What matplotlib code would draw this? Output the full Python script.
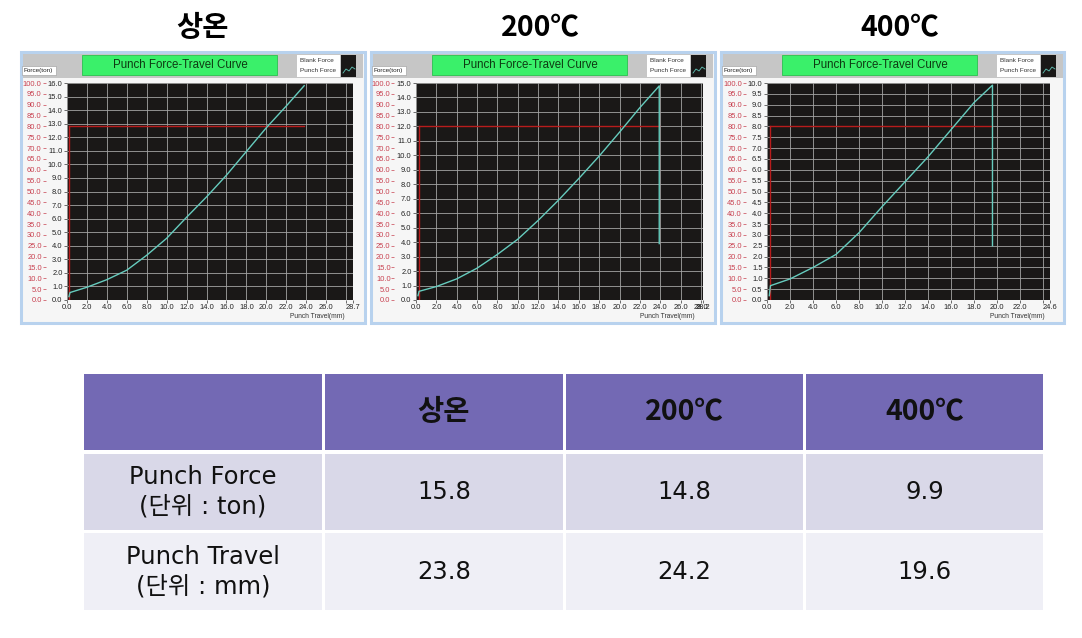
import numpy as np
import matplotlib.pyplot as plt
from matplotlib.patches import Rectangle

# 조건별 데이터
conditions = ['상온', '200℃', '400℃']

travel_rt = [0.2, 0.3, 2, 4, 6, 8, 10, 12, 14, 16, 18, 20, 22, 23.8]
force_rt = [0.25, 0.55, 0.94, 1.5, 2.2, 3.3, 4.55, 6.1, 7.6, 9.2, 10.95, 12.7, 14.3, 15.8]

travel_200 = [0.2, 0.3, 2, 4, 6, 8, 10, 12, 14, 16, 18, 20, 22, 23.9, 23.9]
force_200 = [0.3, 0.6, 0.93, 1.46, 2.2, 3.15, 4.2, 5.5, 6.9, 8.4, 9.95, 11.6, 13.3, 14.8, 3.9]

travel_400 = [0.2, 0.3, 2, 4, 6, 8, 10, 12, 14, 16, 18, 19.6, 19.6]
force_400 = [0.2, 0.66, 0.97, 1.5, 2.1, 3.1, 4.3, 5.45, 6.6, 7.85, 9.1, 9.9, 2.5]

x_max = [28.7, 28.2, 24.6]
x_hidden = [[28.0], [], [24.0]]
y_max = [16.0, 15.0, 10.0]
y_step = [1.0, 1.0, 0.5]

# 표 데이터
row_labels = ['Punch Force\n(단위 : ton)', 'Punch Travel\n(단위 : mm)']
punch_force = [15.8, 14.8, 9.9]
punch_travel = [23.8, 24.2, 19.6]

W, H = 1082, 638
fig = plt.figure(figsize=(W / 100, H / 100), dpi=100)
bg = fig.add_axes([0, 0, 1, 1])
bg.set_xlim(0, W)
bg.set_ylim(H, 0)
bg.axis('off')

kr = ['Noto Sans CJK KR', 'DejaVu Sans']
mix = ['DejaVu Sans', 'Noto Sans CJK KR']
small = 'Liberation Sans'


def fax(x0, y0, x1, y1):
    return fig.add_axes([x0 / W, 1 - y1 / H, (x1 - x0) / W, (y1 - y0) / H])


curves = [(travel_rt, force_rt), (travel_200, force_200), (travel_400, force_400)]
title_x = [203, 540, 900]
plot_boxes = [(67, 83, 353, 300), (416, 83, 703, 300), (767, 83, 1050, 300)]

for i in range(3):
    off = 350 * i
    # 제목
    bg.text(title_x[i], 28, conditions[i], ha='center', va='center', fontsize=20.5,
            fontweight='bold', family=kr)
    # 패널 틀
    bg.add_patch(Rectangle((21 + off, 52), 344 - (1 if i == 2 else 0), 271,
                           facecolor='#f6f6f6', edgecolor='#b8d2ee', lw=2.2))
    bg.add_patch(Rectangle((23 + off, 54), 340, 24, facecolor='#c6c6c6', edgecolor='none'))
    bg.add_patch(Rectangle((82 + off, 55), 195, 20, facecolor='#3af06a', edgecolor='#2cc050', lw=0.6))
    bg.text(180 + off, 65, 'Punch Force-Travel Curve', ha='center', va='center',
            fontsize=8.3, family=small, color='#0e3a12')
    bg.add_patch(Rectangle((297 + off, 55), 43, 22, facecolor='white', edgecolor='none'))
    bg.text(300 + off, 60, 'Blank Force', ha='left', va='center', fontsize=4.6,
            family=small, color='#333333')
    bg.text(300 + off, 71, 'Punch Force', ha='left', va='center', fontsize=4.6,
            family=small, color='#333333')
    bg.add_patch(Rectangle((341 + off, 55), 15, 22, facecolor='#1a1817', edgecolor='none'))
    bg.plot(np.array([343, 346, 349, 352, 355]) + off, [73, 69, 71, 67, 69], color='#62c6b8', lw=0.6)
    bg.add_patch(Rectangle((22 + off, 66), 34, 9, facecolor='white', edgecolor='#999999', lw=0.4))
    bg.text(24 + off, 70.5, 'Force(ton)', ha='left', va='center', fontsize=4.6,
            family=small, color='#222222')
    bg.text(290 + off, 316, 'Punch Travel(mm)', ha='left', va='center', fontsize=4.8,
            family=small, color='#333333')

    # 그래프
    ax = fax(*plot_boxes[i])
    ax.set_facecolor('#1a1817')
    xm, ym = x_max[i], y_max[i]
    ax.set_xlim(0, xm)
    ax.set_ylim(0, ym)

    xt = list(np.arange(0, xm - 0.05, 2.0)) + [xm]
    xl = ['' if any(abs(t - h) < 1e-6 for h in x_hidden[i]) else f'{t:.1f}' for t in xt]
    ax.set_xticks(xt)
    ax.set_xticklabels(xl)
    yt = np.arange(0, ym + 1e-6, y_step[i])
    ax.set_yticks(yt)
    ax.set_yticklabels([f'{v:.1f}' for v in yt])
    ax.tick_params(axis='both', length=2, width=0.5, pad=1.2, labelsize=5.4,
                   color='#333333', labelcolor='#222222')
    for lab in ax.get_xticklabels() + ax.get_yticklabels():
        lab.set_family(small)
    ax.grid(True, color='#a4a4a4', lw=0.6)
    for s in ax.spines.values():
        s.set_visible(False)

    # 빨간 퍼센트 축
    sec = ax.secondary_yaxis(-0.075, functions=(lambda y, m=ym: y / m * 100,
                                                lambda p, m=ym: p * m / 100))
    sec.set_yticks(np.arange(0, 101, 5))
    sec.set_yticklabels([f'{v:.1f}' for v in np.arange(0, 101, 5)])
    sec.tick_params(length=2, width=0.5, pad=0.8, labelsize=5.4, color='#c8404f',
                    labelcolor='#c8404f')
    for lab in sec.get_yticklabels():
        lab.set_family(small)
    sec.spines['left'].set_visible(False)

    # 기준선 (80%)
    tx, fy = curves[i]
    ax.plot([0.25, 0.25], [0, 0.8 * ym], color='#b81c1c', lw=1.0, zorder=3)
    ax.plot([0.25, max(tx)], [0.8 * ym, 0.8 * ym], color='#b81c1c', lw=1.0, zorder=3)
    ax.plot(tx, fy, color='#66ccbe', lw=1.0, zorder=4)

# 표
col_x = [84, 325, 566, 806]
col_w = [238, 238, 237, 237]
row_y = [374, 454, 533]
row_h = [76, 76, 77]
row_col = ['#7369b4', '#d9d8e8', '#efeff6']
for r in range(3):
    for c in range(4):
        bg.add_patch(Rectangle((col_x[c], row_y[r]), col_w[c], row_h[r],
                               facecolor=row_col[r], edgecolor='none'))

for c in range(3):
    cx = col_x[c + 1] + col_w[c + 1] / 2
    bg.text(cx, 412, conditions[c], ha='center', va='center', fontsize=20.5,
            fontweight='bold', family=kr, color='#111111')
    bg.text(cx, 492, f'{punch_force[c]:.1f}', ha='center', va='center', fontsize=17.5,
            family=mix, color='#111111')
    bg.text(cx, 572, f'{punch_travel[c]:.1f}', ha='center', va='center', fontsize=17.5,
            family=mix, color='#111111')

for r, lab in enumerate(row_labels):
    bg.text(203, row_y[r + 1] + row_h[r + 1] / 2, lab, ha='center', va='center',
            fontsize=17.5, family=mix, color='#111111', linespacing=1.3)

fig.savefig('out.png', dpi=100, facecolor='white')
